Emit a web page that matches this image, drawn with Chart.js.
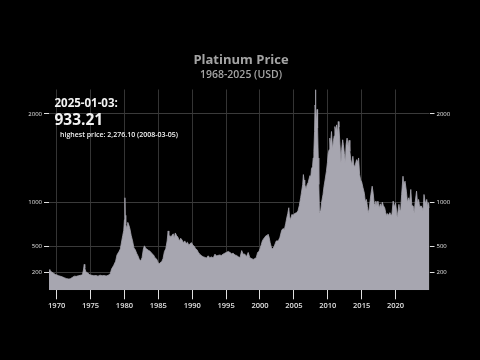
<!DOCTYPE html>
<html><head><meta charset="utf-8">
<script src="https://cdn.jsdelivr.net/npm/chart.js@4/dist/chart.umd.min.js"></script>
<style>html,body{margin:0;padding:0;background:#000;}#wrap{width:480px;height:360px;}</style>
</head><body><div id="wrap"><canvas id="c" width="480" height="360"></canvas></div>
<script>
// decimal years and prices (USD/oz)
const years = [
1968.87,1969.0,1969.3,1969.6,1969.8,1970.0,1970.3,1970.6,1970.9,1971.2,1971.5,1971.8,1972.0,1972.3,1972.6,1972.9,
1973.2,1973.5,1973.8,1973.95,1974.07,1974.15,1974.3,1974.6,1974.9,1975.2,1975.5,1975.8,1976.1,1976.4,1976.7,1977.0,
1977.3,1977.6,1977.9,1978.1,1978.4,1978.7,1978.9,1979.2,1979.4,1979.6,1979.75,1979.9,1980.0,1980.07,1980.12,1980.2,
1980.35,1980.5,1980.65,1980.8,1981.0,1981.2,1981.4,1981.6,1981.8,1982.0,1982.2,1982.4,1982.6,1982.8,1982.95,1983.1,
1983.3,1983.5,1983.7,1983.9,1984.1,1984.3,1984.5,1984.75,1985.0,1985.13,1985.3,1985.5,1985.7,1985.9,1986.1,1986.3,
1986.45,1986.55,1986.7,1986.85,1987.0,1987.2,1987.35,1987.5,1987.7,1987.9,1988.1,1988.3,1988.5,1988.7,1988.9,1989.1,
1989.3,1989.5,1989.7,1989.9,1990.1,1990.3,1990.5,1990.7,1990.9,1991.1,1991.4,1991.6,1991.9,1992.1,1992.36,1992.6,
1992.86,1993.1,1993.35,1993.6,1993.8,1994.05,1994.3,1994.55,1994.8,1995.07,1995.3,1995.55,1995.8,1996.05,1996.3,1996.55,
1996.8,1997.05,1997.3,1997.45,1997.6,1997.77,1998.0,1998.26,1998.5,1998.76,1999.0,1999.25,1999.45,1999.65,1999.85,2000.0,
2000.2,2000.35,2000.5,2000.7,2000.9,2001.05,2001.2,2001.35,2001.5,2001.7,2001.9,2002.1,2002.4,2002.7,2002.94,2003.2,
2003.4,2003.6,2003.8,2003.95,2004.1,2004.25,2004.35,2004.5,2004.7,2004.9,2005.1,2005.4,2005.6,2005.8,2006.0,2006.1,
2006.3,2006.4,2006.5,2006.6,2006.8,2006.96,2007.1,2007.36,2007.5,2007.6,2007.75,2007.85,2007.95,2008.05,2008.12,2008.17,
2008.25,2008.35,2008.42,2008.5,2008.6,2008.68,2008.78,2008.85,2008.95,2009.1,2009.3,2009.45,2009.6,2009.8,2009.95,2010.06,
2010.2,2010.3,2010.4,2010.55,2010.7,2010.85,2010.95,2011.05,2011.2,2011.3,2011.45,2011.55,2011.65,2011.8,2011.95,2012.05,
2012.2,2012.3,2012.45,2012.6,2012.7,2012.85,2013.0,2013.15,2013.26,2013.4,2013.55,2013.7,2013.85,2014.0,2014.25,2014.4,
2014.55,2014.7,2014.85,2015.0,2015.2,2015.4,2015.55,2015.7,2015.85,2015.96,2016.1,2016.36,2016.55,2016.7,2016.85,2016.95,
2017.1,2017.25,2017.4,2017.6,2017.75,2017.9,2018.05,2018.2,2018.4,2018.55,2018.7,2018.8,2018.95,2019.16,2019.3,2019.45,
2019.65,2019.8,2020.0,2020.15,2020.22,2020.3,2020.5,2020.6,2020.75,2020.9,2021.1,2021.2,2021.4,2021.6,2021.75,2021.96,
2022.1,2022.25,2022.4,2022.6,2022.75,2022.9,2023.1,2023.25,2023.4,2023.55,2023.8,2023.95,2024.05,2024.2,2024.4,2024.6,
2024.75,2024.9,2025.005];
const prices = [
235,225,205,190,180,175,165,158,150,140,132,128,130,145,160,158,
165,170,175,230,294,250,210,195,175,170,165,168,160,172,165,168,
162,170,185,241,280,330,400,440,470,560,620,680,800,1049,850,748,
700,770,740,700,620,560,480,460,420,390,350,335,370,470,504,480,
467,455,448,430,415,400,370,354,310,298,315,324,360,440,470,560,
673,590,620,600,620,640,590,650,620,600,560,590,570,540,560,530,
545,510,530,540,510,500,470,460,430,410,391,380,373,365,391,370,
378,365,410,390,395,400,395,410,420,430,440,430,415,420,400,395,
380,370,450,420,410,410,380,429,370,360,350,360,370,429,440,470,
520,560,580,600,620,617,636,600,540,480,470,500,560,560,600,680,
700,690,760,820,870,936,840,800,860,850,870,880,900,960,1049,1100,
1199,1312,1250,1199,1150,1200,1220,1300,1290,1380,1400,1500,1575,1800,2100,2276.1,
2050,1900,2050,1838,1500,1200,880,900,900,1000,1086,1180,1250,1349,1450,1550,
1594,1725,1650,1800,1600,1700,1750,1856,1800,1875,1780,1913,1850,1650,1450,1594,
1706,1650,1550,1450,1650,1725,1631,1700,1575,1480,1420,1519,1420,1400,1481,1450,
1500,1312,1250,1230,1162,1100,1000,1030,950,880,920,1086,1180,1100,980,950,
1011,960,1011,930,980,940,1000,960,936,880,845,870,850,880,860,850,
1011,940,993,900,830,860,974,920,900,1086,1293,1200,1237,1124,1000,1049,
1000,1143,960,955,880,1000,1124,980,1030,950,955,930,900,1086,980,1030,
950,993,933.21];
const yTickValues = [200, 500, 1000, 2000];
const xTickYears = [1970, 1975, 1980, 1985, 1990, 1995, 2000, 2005, 2010, 2015, 2020];
const titleText = 'Platinum Price';
const subtitleText = '1968-2025 (USD)';
const lastDateText = '2025-01-03:';
const lastPriceText = '933.21';
const highestText = 'highest price: 2,276.10 (2008-03-05)';

const FONT = "'Open Sans', 'DejaVu Sans', sans-serif";
const points = years.map((y, i) => ({x: y, y: prices[i]}));

const textPlugin = {
  id: 'texts',
  beforeDraw(chart) {
    const ctx = chart.ctx;
    ctx.save();
    ctx.fillStyle = '#000';
    ctx.fillRect(0, 0, chart.width, chart.height);
    ctx.restore();
  },
  afterDraw(chart) {
    const ctx = chart.ctx;
    ctx.save();
    ctx.textBaseline = 'middle';
    ctx.textAlign = 'center';
    ctx.fillStyle = '#a4a4a4';
    ctx.font = "bold 13px " + FONT;
    ctx.fillText(titleText, 241, 60);
    ctx.font = "600 10.5px " + FONT;
    ctx.fillText(subtitleText, 241, 75.5);
    ctx.textAlign = 'left';
    ctx.fillStyle = '#f2f2f2';
    ctx.font = "bold 11.5px " + FONT;
    ctx.fillText(lastDateText, 54.5, 103.5);
    ctx.font = "bold 15.5px " + FONT;
    ctx.fillText(lastPriceText, 54.5, 120.5);
    ctx.font = "600 7px " + FONT;
    ctx.fillText(highestText, 60, 134.5);
    ctx.restore();
  }
};

const yTicks = (scale) => { scale.ticks = yTickValues.map(v => ({value: v})); };

new Chart(document.getElementById('c'), {
  type: 'line',
  data: {
    datasets: [{
      data: points,
      borderColor: '#a7a6b0',
      backgroundColor: '#a7a6b0',
      borderWidth: 0.8,
      pointRadius: 0,
      tension: 0,
      fill: 'start'
    }]
  },
  options: {
    responsive: false,
    animation: false,
    layout: {padding: {top: 89.5, left: 0, right: 0, bottom: 0}},
    plugins: {legend: {display: false}, tooltip: {enabled: false}, title: {display: false}},
    scales: {
      x: {
        type: 'linear', min: 1968.87, max: 2025.01,
        afterBuildTicks: (s) => { s.ticks = xTickYears.map(v => ({value: v})); },
        afterFit: (s) => { s.height = 69.7; },
        border: {display: false},
        grid: {color: '#343434', lineWidth: 1, tickColor: '#e0e0e0', tickLength: 9},
        ticks: {color: '#e0e0e0', font: {family: FONT, size: 7.5, weight: '600'}, padding: 2,
                maxRotation: 0, autoSkip: false, callback: (v) => String(v)}
      },
      y: {
        type: 'linear', position: 'left', min: 0, max: 2276.1,
        afterBuildTicks: yTicks,
        afterFit: (s) => { s.width = 49; },
        border: {display: false},
        grid: {color: '#3a3a3a', lineWidth: 1, tickColor: '#e0e0e0', tickLength: 5},
        ticks: {color: '#e0e0e0', font: {family: FONT, size: 6}, padding: 2, callback: (v) => String(v)}
      },
      y2: {
        type: 'linear', position: 'right', min: 0, max: 2276.1,
        afterBuildTicks: yTicks,
        afterFit: (s) => { s.width = 50.5; },
        border: {display: false},
        grid: {drawOnChartArea: false, tickColor: '#e0e0e0', tickLength: 5},
        ticks: {color: '#e0e0e0', font: {family: FONT, size: 6}, padding: 2, callback: (v) => String(v)}
      }
    }
  },
  plugins: [textPlugin]
});
</script></body></html>
